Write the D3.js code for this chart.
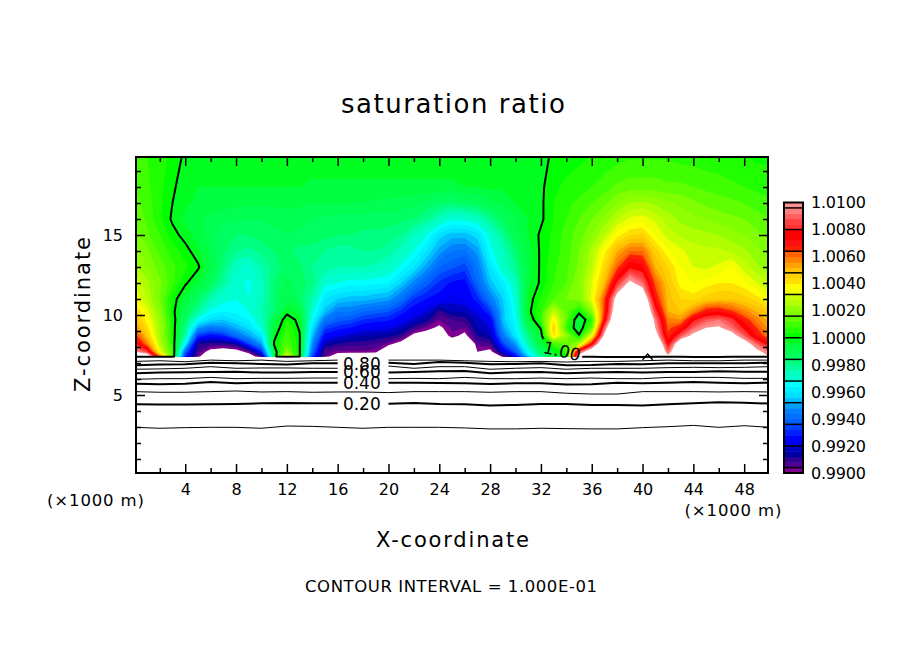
<!DOCTYPE html>
<html>
<head>
<meta charset="utf-8">
<script src="https://cdn.jsdelivr.net/npm/d3@7"></script>
<style>
  html, body { margin: 0; background: #fff; }
  svg { display: block; }
  text { font-family: "DejaVu Sans", sans-serif; fill: #000; }
  .tick line { stroke: #000; stroke-width: 1.5; }
</style>
</head>
<body>
<div id="vis-holder"></div>
<script>
// Grid stations, km. Columns run x = 0..50 every 1 km
const xStations = [0,1,2,3,4,5,6,7,8,9,10,11,12,13,14,15,16,17,18,19,20,21,22,23,24,25,26,27,28,29,30,31,32,33,34,35,36,37,38,39,40,41,42,43,44,45,46,47,48,49,50];
const zLevels = [7.36,7.4,7.7,8.2,8.7,9.2,9.7,10.2,11,12,13,14,15,16,17,18,20];

// Saturation ratio, stored as (S - 1) * 10000. Outside +-100 is left white
const rowZ736 = [-200,-200,-200,-200,-200,-200,-200,-200,-200,-200,-200,-200,-200,-200,-200,-200,-200,-200,-200,-200,-200,-200,-200,-200,-200,-200,-200,-200,-200,-200,-200,-200,-200,-200,-200,-200,-200,-200,-200,-200,-200,-200,-200,-200,-200,-200,-200,-200,-200,-200,-200];
const rowZ740 = [140,120,60,10,-70,-96,-120,-125,-120,-110, -90,-8,40,1,-66,-95,-110,-112,-112,-112, -120,-130,-140,-150,-150,-140,-140,-130,-130,-96, -76,-44,-20,-6,2,110,140,170,190,210, 190,150,105,140,160,170,170,150,135,115, 100];
const rowZ770 = [100,85,35,10,-60,-92,-105,-108,-106,-96, -70,-5,20,1,-58,-94,-97,-97,-97,-98, -115,-130,-140,-150,-150,-140,-140,-100,-104,-80, -62,-34,-14,-2,8,85,120,150,180,200, 180,140,90,130,150,160,160,140,125,105, 92];
const rowZ820 = [82,58,28,6,-36,-88,-90,-90,-86,-66, -50,1,12,1,-52,-84,-88,-90,-90,-92, -97,-105,-125,-130,-130,-110,-125,-94,-92,-66, -50,-24,-6,10,14,24,72,130,170,200, 170,130,76,118,140,150,150,130,110,90, 74];
const rowZ870 = [68,48,24,5,-24,-68,-74,-70,-58,-50, -40,-2,10,1,-46,-74,-78,-82,-84,-85, -86,-90,-104,-106,-108,-97,-103,-88,-84,-56, -40,-18,-4,42,22,1,36,105,150,190, 160,110,66,88,105,125,125,108,90,70, 58];
const rowZ920 = [58,42,24,4,-18,-50,-56,-54,-48,-42, -30,-6,8,-1,-40,-66,-70,-72,-76,-77, -78,-82,-90,-97,-102,-95,-96,-84,-80,-50, -36,-12,1,46,8,-6,14,90,140,180, 150,100,62,70,90,100,102,92,78,64, 54];
const rowZ970 = [52,38,22,4,-14,-34,-42,-44,-40,-36, -28,-8,4,-2,-34,-56,-62,-64,-68,-70, -71,-76,-81,-86,-96,-92,-90,-82,-76,-46, -34,-6,8,40,14,-8,8,72,130,170, 140,95,58,56,78,88,92,84,68,58, 50];
const rowZ1020 = [46,34,20,2,-10,-22,-34,-36,-35,-32, -24,-16,-2,-6,-30,-46,-56,-56,-60,-62, -64,-70,-76,-80,-90,-84,-84,-78,-68,-46, -32,-2,8,30,14,2,20,66,120,150, 130,85,52,48,58,70,72,66,58,52, 46];
const rowZ1100 = [36,28,16,3,-6,-14,-24,-30,-32,-32, -26,-16,-8,-14,-24,-40,-44,-46,-46,-48, -50,-58,-68,-72,-74,-78,-76,-70,-56,-44, -30,-3,5,12,16,18,34,64,110,130, 120,70,50,44,42,46,48,48,46,42, 36];
const rowZ1200 = [32,25,17,9,1,-5,-12,-22,-30,-33, -26,-16,-10,-14,-18,-30,-32,-34,-34,-35, -36,-44,-54,-62,-69,-73,-74,-60,-46,-38, -26,-5,1,8,12,20,32,50,82,104, 92,62,48,38,36,38,40,40,37,32, 28];
const rowZ1300 = [26,20,14,9,5,1,-8,-18,-27,-30, -24,-18,-14,-15,-20,-22,-24,-24,-24,-25, -28,-33,-40,-50,-60,-63,-66,-56,-40,-28, -20,-6,1,7,11,17,28,44,62,78, 74,52,44,36,32,31,33,37,30,25, 20];
const rowZ1400 = [22,17,11,6,2,-3,-9,-15,-20,-21, -19,-16,-15,-18,-18,-20,-22,-22,-20,-20, -22,-26,-32,-40,-50,-56,-57,-50,-34,-26, -16,-6,1,6,10,16,26,38,52,60, 60,46,37,33,30,29,29,27,25,21, 18];
const rowZ1500 = [18,13,8,2,-2,-6,-10,-14,-16,-16, -14,-13,-12,-13,-13,-15,-16,-16,-17,-17, -18,-20,-26,-32,-42,-46,-46,-42,-30,-20, -10,-4,1,5,10,14,20,28,38,44, 45,36,30,27,26,25,24,22,20,17, 15];
const rowZ1600 = [16,11,5,-1,-5,-7,-9,-11,-11,-12, -12,-11,-10,-10,-12,-13,-14,-14,-14,-14, -14,-15,-16,-20,-26,-31,-30,-27,-20,-13, -8,-4,-1,4,8,12,16,21,28,33, 34,31,26,23,21,20,18,17,16,14, 12];
const rowZ1700 = [14,10,5,0,-3,-5,-6,-6,-7,-7, -7,-7,-7,-7,-8,-8,-8,-8,-8,-9, -9,-10,-11,-13,-15,-16,-14,-12,-9,-7, -4,-3,-1,4,7,9,12,15,20,24, 25,23,21,19,17,15,14,13,12,10, 9];
const rowZ1800 = [12,9,5,1,-3,-4,-4,-4,-4,-4, -4,-4,-4,-4,-5,-5,-5,-5,-5,-5, -5,-5,-5,-5,-5,-5,-4,-4,-3,-3, -2,-2,-1,3,5,6,8,10,13,14, 14,14,13,13,12,11,10,9,8,7, 6];
const rowZ2000 = [10,8,6,3,-1,-1,-1,-1,-1,-1, -1,-1,-1,-1,-1,-1,-1,-1,-1,-1, -1,-1,-1,-1,-1,-1,-1,-1,-1,-1, -1,-1,-2,1,2,3,4,5,6,7, 7,7,7,6,6,5,5,4,4,3, 3];

const fieldRows = [rowZ736,rowZ740,rowZ770,rowZ820,rowZ870,rowZ920,rowZ970,rowZ1020,rowZ1100,rowZ1200,rowZ1300,rowZ1400,rowZ1500,rowZ1600,rowZ1700,rowZ1800,rowZ2000];

// Colour bands, bottom of the colour bar upward, one per 0.0004
const bandColors = ["#800090",
  "#500090","#300090","#0000a0","#0000c0",
  "#0000f0","#0000ff","#0020ff","#0040ff",
  "#0060ff","#0070ff","#0080ff","#00a0ff",
  "#00c0ff","#00e0ff","#00f0ff","#00ffff",
  "#00ffd0","#00ffc0","#00ffa0","#00ff80",
  "#00ff60","#00ff50","#00ff40","#00ff20",
  "#00ff00","#20ff00","#40ff00","#60ff00",
  "#80ff00","#90ff00","#b0ff00","#c8ff00",
  "#f0ff00","#ffff00","#ffe000","#ffd000",
  "#ffc000","#ffa000","#ff8000","#ff6000",
  "#ff2000","#ff1010","#ff0000","#ff0000",
  "#ff3030","#ff4040","#ff6060","#ff8080",
  "#ff9090"];
const bandEdges = [-100,-96,-92,-88,-84,-80,-76,-72,-68,-64,-60,-56,-52,-48,-44,-40,-36,-32,-28,-24,-20,-16,-12,-8,-4,0,4,8,12,16,20,24,28,32,36,40,44,48,52,56,60,64,68,72,76,80,84,88,92,96,100];
const barSeparators = [-96,-80,-64,-48,-32,-16,0,16,32,48,64,80,96];
const barLabels = [-100,-80,-60,-40,-20,0,20,40,60,80,100];

// Contour lines below the cloud base: height (km) of each level at these x stations
const lineStations = [0,2,4,6,8,10,12,14,16,18,20,22,24,26,28,30,32,34,36,38,40,42,44,46,48,50];
const line01 = [2.98,2.92,2.96,2.98,2.98,2.92,3.06,3.04,2.98,2.92,2.98,2.98,2.98,2.94,2.88,2.88,2.92,2.9,2.88,2.88,2.96,3.02,3.1,2.98,3.08,2.98];
const line02 = [4.42,4.40,4.40,4.42,4.44,4.48,4.5,4.48,4.48,4.48,4.46,4.5,4.44,4.42,4.34,4.38,4.44,4.44,4.38,4.38,4.34,4.42,4.48,4.54,4.52,4.46];
const line03 = [5.21,5.17,5.17,5.21,5.25,5.19,5.21,5.17,5.19,5.19,5.15,5.21,5.21,5.21,5.17,5.21,5.21,5.11,5.06,5.06,5.21,5.21,5.21,5.19,5.21,5.19];
const line04 = [5.71,5.67,5.71,5.81,5.73,5.77,5.77,5.77,5.77,5.73,5.77,5.77,5.75,5.73,5.69,5.73,5.73,5.65,5.67,5.77,5.73,5.77,5.81,5.77,5.73,5.77];
const line05 = [5.98,6.02,6.02,6.10,6.02,6.04,6.04,6.06,6.06,6.02,6.02,6.04,6.02,6.10,6.02,6.02,6.06,6.02,6.06,6.02,6.02,6.10,6.10,6.10,6.04,6.04];
const line06 = [6.36,6.40,6.42,6.44,6.46,6.40,6.40,6.44,6.44,6.44,6.40,6.44,6.48,6.50,6.36,6.42,6.44,6.36,6.40,6.44,6.40,6.44,6.44,6.48,6.46,6.46];
const line07 = [6.61,6.63,6.67,6.77,6.67,6.69,6.69,6.67,6.67,6.69,6.81,6.67,6.77,6.77,6.61,6.67,6.71,6.61,6.67,6.67,6.67,6.71,6.73,6.71,6.73,6.77];
const line08 = [6.86,6.90,6.92,7.02,6.98,6.94,6.90,6.98,6.98,6.94,7.02,6.94,7.06,7.02,6.92,6.94,6.98,6.86,6.88,6.94,6.92,6.98,6.98,6.98,6.98,7.02];
const line09 = [7.10,7.14,7.08,7.18,7.14,7.18,7.10,7.14,7.18,7.10,7.18,7.18,7.18,7.14,7.10,7.08,7.10,7.06,7.10,7.10,7.14,7.18,7.14,7.14,7.18,7.18];
// little spike on the cloud base near x = 40
const spikeX = [40,40.4,40.8];
const spikeZ = [7.2,7.56,7.2];

const xTicksMajor = [4,8,12,16,20,24,28,32,36,40,44,48];
const xTicksMinor = [2,6,10,14,18,22,26,30,34,38,42,46];
const zTicksMajor = [5,10,15];
const zTicksMinor = [1,2,3,4,6,7,8,9,11,12,13,14,16,17,18,19];

const width = 904;
const height = 654;
const plot = { left: 136, right: 768, top: 157, bottom: 473 };

const svg = d3.select("#vis-holder")
  .append("svg")
  .attr("width", width)
  .attr("height", height);

const xScale = d3.scaleLinear().domain([0.125, 49.875]).range([plot.left, plot.right]);
const zScale = d3.scaleLinear().domain([0.125, 19.875]).range([plot.bottom, plot.top]);
const barScale = d3.scaleLinear().domain([-100, 100]).range([473, 202.5]);

const defs = svg.append("defs");

defs.append("clipPath").attr("id", "plotClip")
  .append("rect")
  .attr("x", plot.left).attr("y", plot.top)
  .attr("width", plot.right - plot.left).attr("height", plot.bottom - plot.top);

// knocks the 1.00 contour out behind its label
const gap = defs.append("mask").attr("id", "labelGap")
  .attr("maskUnits", "userSpaceOnUse")
  .attr("x", 0).attr("y", 0).attr("width", width).attr("height", height);
gap.append("rect").attr("width", width).attr("height", height).attr("fill", "#fff");
gap.append("rect").attr("x", 541).attr("y", 343).attr("width", 42).attr("height", 17)
  .attr("transform", "rotate(13 562 351)").attr("fill", "#000");

// Filled contours. Grid position -> km goes through the scales
const rowToZ = d3.scaleLinear().domain(d3.range(zLevels.length)).range(zLevels);
const colToX = d3.scaleLinear().domain(d3.range(xStations.length)).range(xStations);
const gridPath = d3.geoPath(d3.geoTransform({
  point(c, r) {
    this.stream.point(xScale(colToX(c - 0.5)), zScale(rowToZ(r - 0.5)));
  }
}));

const contourGen = d3.contours().size([xStations.length, zLevels.length]).smooth(true);
const flatField = fieldRows.flat();
const bands = contourGen.thresholds(bandEdges)(flatField);

const plotArea = svg.append("g").attr("clip-path", "url(#plotClip)");

plotArea.selectAll(".band")
  .data(bands)
  .enter()
  .append("path")
  .attr("class", "band")
  .attr("d", gridPath)
  .attr("fill", (d, i) => i < bandColors.length ? bandColors[i] : "#fff");

// Black contour at 1.00
plotArea.append("path")
  .datum(contourGen.thresholds([0])(flatField)[0])
  .attr("d", gridPath)
  .attr("fill", "none")
  .attr("stroke", "#000")
  .attr("stroke-width", 2)
  .attr("stroke-linejoin", "round")
  .attr("mask", "url(#labelGap)");

// Lower contour lines, every other one heavier. Labelled stretch around x = 18 has a gap
const lowerLines = [
  { zs: line01, w: 1, gap: false },
  { zs: line02, w: 2, gap: true },
  { zs: line03, w: 1, gap: false },
  { zs: line04, w: 2, gap: true },
  { zs: line05, w: 1, gap: true },
  { zs: line06, w: 2, gap: true },
  { zs: line07, w: 1, gap: true },
  { zs: line08, w: 2, gap: true },
  { zs: line09, w: 1, gap: true }
];

plotArea.selectAll(".lowerLine")
  .data(lowerLines)
  .enter()
  .append("path")
  .attr("class", "lowerLine")
  .attr("fill", "none")
  .attr("stroke", "#000")
  .attr("stroke-width", (d) => d.w)
  .attr("d", (d) => d3.line()
    .defined((z, i) => !d.gap || lineStations[i] < 17 || lineStations[i] > 19)
    .x((z, i) => xScale(lineStations[i]))
    .y((z) => zScale(z))(d.zs));

plotArea.append("path")
  .attr("fill", "none")
  .attr("stroke", "#000")
  .attr("stroke-width", 1.5)
  .attr("d", d3.line()
    .x((z, i) => xScale(spikeX[i]))
    .y((z) => zScale(z))(spikeZ));

// Contour labels
const contourLabels = [["0.80", 6.95], ["0.60", 6.45], ["0.40", 5.78], ["0.20", 4.45]];
svg.selectAll(".contourLabel")
  .data(contourLabels)
  .enter()
  .append("text")
  .attr("class", "contourLabel")
  .attr("x", xScale(17.9))
  .attr("y", (d) => zScale(d[1]))
  .attr("dy", "0.36em")
  .attr("text-anchor", "middle")
  .attr("font-size", 17)
  .text((d) => d[0]);

svg.append("text")
  .attr("text-anchor", "middle")
  .attr("dy", "0.36em")
  .attr("font-size", 17)
  .attr("transform", "translate(562,351) rotate(13)")
  .text("1.00");

// Axes, ticks pointing inward on all four sides
function xAxis(gen, y, values, size, labels) {
  const g = svg.append("g")
    .attr("transform", `translate(0,${y})`)
    .call(gen(xScale).tickValues(values).tickSizeInner(size).tickSizeOuter(0).tickPadding(10.5)
      .tickFormat(labels ? d3.format("d") : ""));
  g.select(".domain").remove();
  g.selectAll("text").attr("font-size", 16).attr("font-family", null);
}
function zAxis(gen, x, values, size, labels) {
  const g = svg.append("g")
    .attr("transform", `translate(${x},0)`)
    .call(gen(zScale).tickValues(values).tickSizeInner(size).tickSizeOuter(0).tickPadding(13)
      .tickFormat(labels ? d3.format("d") : ""));
  g.select(".domain").remove();
  g.selectAll("text").attr("font-size", 16).attr("font-family", null);
}

xAxis(d3.axisBottom, plot.bottom, xTicksMajor, -9, true);
xAxis(d3.axisBottom, plot.bottom, xTicksMinor, -5, false);
xAxis(d3.axisTop, plot.top, xTicksMajor, -9, false);
xAxis(d3.axisTop, plot.top, xTicksMinor, -5, false);
zAxis(d3.axisLeft, plot.left, zTicksMajor, -9, true);
zAxis(d3.axisLeft, plot.left, zTicksMinor, -5, false);
zAxis(d3.axisRight, plot.right, zTicksMajor, -9, false);
zAxis(d3.axisRight, plot.right, zTicksMinor, -5, false);

svg.append("rect")
  .attr("x", plot.left).attr("y", plot.top)
  .attr("width", plot.right - plot.left).attr("height", plot.bottom - plot.top)
  .attr("fill", "none")
  .attr("stroke", "#000")
  .attr("stroke-width", 2);

// Colour bar
const bar = svg.append("g");
bar.selectAll(".barBand")
  .data(bandColors)
  .enter()
  .append("rect")
  .attr("class", "barBand")
  .attr("x", 784)
  .attr("width", 19)
  .attr("y", (d, i) => barScale(bandEdges[i + 1]))
  .attr("height", (d, i) => barScale(bandEdges[i]) - barScale(bandEdges[i + 1]) + 0.5)
  .attr("fill", (d) => d);

bar.selectAll(".barSep")
  .data(barSeparators)
  .enter()
  .append("line")
  .attr("x1", 784).attr("x2", 803)
  .attr("y1", (d) => barScale(d)).attr("y2", (d) => barScale(d))
  .attr("stroke", "#000")
  .attr("stroke-width", 1.5);

bar.append("rect")
  .attr("x", 784).attr("y", barScale(100))
  .attr("width", 19).attr("height", barScale(-100) - barScale(100))
  .attr("fill", "none")
  .attr("stroke", "#000")
  .attr("stroke-width", 2);

bar.selectAll(".barLabel")
  .data(barLabels)
  .enter()
  .append("text")
  .attr("x", 811)
  .attr("y", (d) => barScale(d))
  .attr("dy", "0.36em")
  .attr("font-size", 16)
  .attr("textLength", 55)
  .attr("lengthAdjust", "spacing")
  .text((d) => (1 + d / 10000).toFixed(4));

// Titles and captions
function caption(txt, x, y, size, len, anchor) {
  return svg.append("text")
    .attr("x", x).attr("y", y)
    .attr("font-size", size)
    .attr("text-anchor", anchor || "middle")
    .attr("textLength", len)
    .attr("lengthAdjust", "spacing")
    .text(txt);
}
caption("saturation ratio", 453, 113, 26, 224);
caption("X-coordinate", 452.5, 547, 21, 153);
caption("CONTOUR INTERVAL = 1.000E-01", 451, 592, 16.5, 292);
caption("(\u00d71000 m)", 95.5, 506, 16.5, 97);
caption("(\u00d71000 m)", 733, 516, 16.5, 97);
svg.append("text")
  .attr("transform", "translate(90,314.5) rotate(-90)")
  .attr("font-size", 21)
  .attr("text-anchor", "middle")
  .attr("textLength", 155)
  .attr("lengthAdjust", "spacing")
  .text("Z-coordinate");
</script>
</body>
</html>
